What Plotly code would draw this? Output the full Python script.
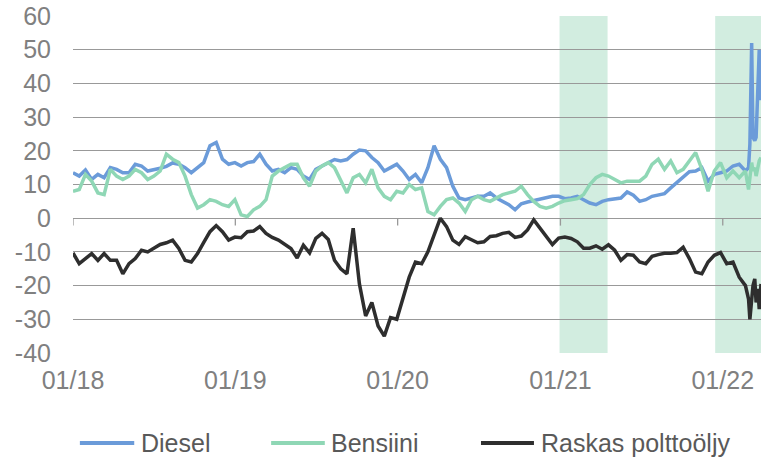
import pandas as pd
import plotly.graph_objects as go

# ---- data ----
dates = list(pd.date_range("2018-01-01", periods=109, freq="14D").strftime("%Y-%m-%d")) + [
    "2022-02-28", "2022-03-03", "2022-03-07", "2022-03-10", "2022-03-14",
    "2022-03-17", "2022-03-21", "2022-03-24", "2022-03-28"]

diesel = [13.5, 12.5, 14.3, 11.5, 13, 12, 15, 14.5, 13.5, 13.5,
          16, 15.5, 14, 14.3, 14.8, 15.4, 16.4, 16, 15, 13.5,
          15, 16.5, 21.5, 22.5, 17.5, 16, 16.5, 15.5, 16.5, 16.8,
          19, 16, 14, 14.5, 13.5, 15, 14.5, 12.5, 11.5, 14.5,
          15.5, 16.5, 17.4, 17, 17.4, 19, 20.2, 20, 18, 16.5,
          14, 15, 16, 14, 11.5, 13, 10.5, 15, 21.5, 17.5,
          15, 9.5, 6, 5.5, 6, 6.5, 6.5, 7.5, 6, 5,
          4, 2.5, 4.3, 4.8, 5.2, 5.6, 6, 6.5, 6.5, 5.8,
          6, 6.5, 5.5, 4.5, 4, 5, 5.5, 5.7, 6, 7.8,
          6.8, 5, 5.5, 6.5, 6.8, 7.3, 9, 10.5, 12, 13.8,
          14, 15, 11, 13, 13.5, 14, 15.5, 16, 14,
          15, 22, 52, 24, 23, 24, 38, 50, 35]

bensiini = [8, 8.5, 13, 11, 7.5, 7, 14.5, 12.5, 11.5, 12.5,
            14.5, 13.5, 11.5, 12.5, 14, 19, 17.5, 16.5, 12.5, 7,
            3, 4, 5.5, 5, 4, 3.5, 5.5, 1, 0.5, 2.5,
            3.5, 5.5, 12.5, 14, 15, 16, 16, 12, 9.5, 14,
            15.5, 16.5, 15, 11.5, 7.5, 12, 13, 10.5, 14.5, 9,
            6.5, 5.5, 8, 7.5, 10, 8.5, 9, 2, 1, 3.5,
            5.5, 6, 4.5, 2, 5.5, 6.5, 5.5, 5, 6, 7,
            7.5, 8, 9.5, 7, 5, 3.5, 3, 3.5, 4.5, 5.2,
            5.5, 5.8, 7, 10, 12, 13, 12.5, 11.5, 10.5, 11,
            11, 11, 12.5, 16, 17.5, 14.5, 17, 13.5, 14.5, 17,
            19.5, 14.5, 8, 14, 16.5, 12, 14, 12, 14,
            8.5, 12, 16.5, 14, 15, 12.5, 15, 17, 18]

raskas = [-10.3, -13.5, -12, -10.5, -12.5, -10.5, -12.5, -12.5, -16.5, -13.5,
          -12, -9.5, -10, -8.8, -7.8, -7.3, -6.5, -9, -12.5, -13,
          -10.5, -7.2, -4, -2.2, -4, -6.5, -5.6, -5.8, -4, -3.8,
          -2.5, -4.5, -5.7, -6.5, -7.8, -9, -11.8, -8, -10.3, -6,
          -4.5, -6.3, -12.5, -15, -16.5, -3, -19.5, -29, -25, -32,
          -35, -29.5, -30, -24, -17.5, -13, -13.5, -10, -5, 0,
          -2.5, -6.5, -7.8, -5.5, -6.4, -7.3, -7, -5.4, -5.2, -4.5,
          -4.2, -5.7, -5.3, -3.5, -0.5, -3, -5.5, -7.8, -5.9, -5.6,
          -6, -7, -8.9, -8.9, -8.2, -9.2, -7.9, -9.5, -12.5, -10.8,
          -11, -13, -13.5, -11.3, -10.8, -10.4, -10.4, -10.2, -8.6, -12,
          -16, -16.5, -13, -11, -10.2, -13.5, -13, -17.5, -20,
          -24, -30, -23.5, -20, -18, -25, -21, -27, -19.5]

series_names = ["Diesel", "Bensiini", "Raskas polttoöljy"]
series_colors = ["#6b9bd9", "#8fd7b5", "#2e2e2e"]

x_tick_vals = ["2018-01-01", "2019-01-01", "2020-01-01", "2021-01-01", "2022-01-01"]
x_tick_text = ["01/18", "01/19", "01/20", "01/21", "01/22"]
y_tick_vals = [-40, -30, -20, -10, 0, 10, 20, 30, 40, 50, 60]
y_tick_text = ["-40", "-30", "-20", "-10", "0", "10", "20", "30", "40", "50", "60"]

shade_periods = [("2020-12-30", "2021-04-17"), ("2021-12-15", "2022-03-28")]
x_range = ["2018-01-01", "2022-03-28"]

FONT = "Liberation Sans, Arial, sans-serif"

fig = go.Figure()
for name, vals, col in zip(series_names, [diesel, bensiini, raskas], series_colors):
    fig.add_trace(go.Scatter(x=dates, y=vals, mode="lines", name=name,
                             line=dict(color=col, width=3.5), showlegend=False))

for x0, x1 in shade_periods:
    fig.add_shape(type="rect", xref="x", yref="paper", x0=x0, x1=x1, y0=0, y1=1,
                  fillcolor="#d2ede0", line=dict(width=0), layer="below")

for tv in x_tick_vals:
    fig.add_shape(type="line", xref="x", yref="y", x0=tv, x1=tv, y0=0, y1=-2.2,
                  line=dict(color="#999999", width=1.3))

# manual legend (line sample + text), positions in paper coordinates
legend_line_x = [(0.010, 0.089), (0.288, 0.366), (0.593, 0.670)]
legend_text_x = [0.098, 0.374, 0.679]
legend_y = -0.267
for name, col, (lx0, lx1), tx in zip(series_names, series_colors, legend_line_x, legend_text_x):
    fig.add_shape(type="line", xref="paper", yref="paper", x0=lx0, x1=lx1,
                  y0=legend_y, y1=legend_y, line=dict(color=col, width=4))
    fig.add_annotation(xref="paper", yref="paper", x=tx, y=legend_y, text=name,
                       showarrow=False, xanchor="left", yanchor="middle", borderpad=0,
                       font=dict(family=FONT, size=25, color="#595959"))

fig.update_layout(
    width=761, height=458,
    margin=dict(l=73, r=0, t=16, b=105, autoexpand=False),
    paper_bgcolor="white", plot_bgcolor="white",
    font=dict(family=FONT, size=25, color="#808080"),
    showlegend=False,
    xaxis=dict(type="date", range=x_range, tickvals=x_tick_vals, ticktext=x_tick_text,
               showgrid=False, zeroline=False, showline=False, ticks="",
               ticklabelstandoff=10, automargin=False, ticklabeloverflow="allow",
               tickfont=dict(family=FONT, size=25, color="#808080")),
    yaxis=dict(range=[-40, 60], tickvals=y_tick_vals, ticktext=y_tick_text,
               showgrid=True, gridcolor="#999999", gridwidth=1.3,
               zeroline=False, showline=False, ticks="",
               ticklabelstandoff=21, automargin=False, ticklabeloverflow="allow",
               tickfont=dict(family=FONT, size=25, color="#808080")),
)

# remove the default page margin so the 761x458 figure fills the window exactly
fig.write_html("out.html", config={"displayModeBar": False},
               post_script="document.body.style.margin='0';document.body.style.overflow='hidden';")
